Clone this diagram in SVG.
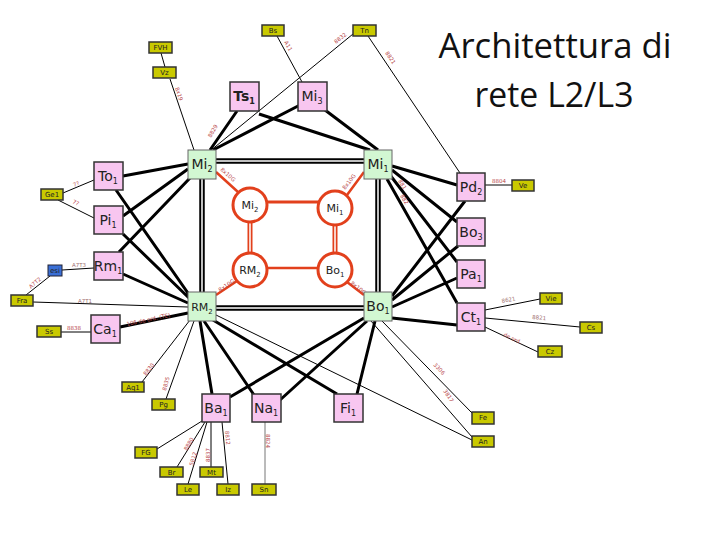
<svg xmlns="http://www.w3.org/2000/svg" width="720" height="540" viewBox="0 0 720 540">
<style>
.thick{stroke:#000;stroke-width:3;fill:none}
.thin{stroke:#000;stroke-width:1;fill:none}
.gray{stroke:#777;stroke-width:1;fill:none}
.dblo{stroke:#000;stroke-width:5.5;fill:none}
.dbli{stroke:#fff;stroke-width:1.5;fill:none}
.red{stroke:#e2401c;fill:none}
.pink{fill:#f8c6f0;stroke:#333;stroke-width:1.5}
.green{fill:#d2f7d2;stroke:#666;stroke-width:1}
.yel{fill:#c9c900;stroke:#333;stroke-width:1.5}
.circ{fill:#fff;stroke:#e2401c;stroke-width:3}
.nl{font-family:"DejaVu Sans",sans-serif;font-size:14px;fill:#222;text-anchor:middle}
.cl{font-family:"DejaVu Sans",sans-serif;font-size:11px;fill:#222;text-anchor:middle}
.yl{font-family:"DejaVu Sans",sans-serif;font-size:7px;fill:#222;text-anchor:middle}
.lb{font-family:"DejaVu Sans",sans-serif;font-size:5.5px;fill:#b8474a}
.lg{font-family:"DejaVu Sans",sans-serif;font-size:5.5px;fill:#a07070}
.title{font-family:"Open Sans","Liberation Sans",sans-serif;font-size:34px;fill:#111;text-anchor:middle}
</style>

<g id="title">
<text class="title" x="555" y="58" textLength="233" lengthAdjust="spacingAndGlyphs">Architettura di</text>
<text class="title" x="554" y="107" textLength="159" lengthAdjust="spacingAndGlyphs">rete L2/L3</text>
</g>

<g id="connectors">
<path class="dblo" d="M216,161 L364,161 M202,179 L202,292 M378,179 L378,292 M216,308 L364,308"/>
<path class="dbli" d="M216,161 L364,161 M202,179 L202,292 M378,179 L378,292 M216,308 L364,308"/>
<path class="thick" d="M210,150 L237,111 M213,150 L300,105 M259,114 L370,150 M325,110 L378,150
M123,176 L188,164 M123,216 L188,169 M119,252 L190,178
M116,190 L190,296 M123,234 L189,298 M123,274 L188,303 M120,327 L188,313
M200,321 L212,394 M204,321 L254,395 M213,320 L337,394
M364,318 L230,397 M367,321 L280,400 M375,321 L357,394
M392,296 L465,201 M392,300 L458,246 M392,307 L457,278 M392,318 L457,325
M392,166 L457,185 M392,170 L457,222 M390,175 L457,262 M387,179 L457,303"/>
<path class="thin" d="M210,151 L353,34 M194,150 L170,79 M161,53 L165,67 M277,36 L302,82 M368,36 L460,173
M63,193 L94,180 M58,200 L94,218 M62,270 L94,268 M50,276 L26,295 M33,302 L188,307 M61,332 L91,332
M190,320 L142,382 M194,321 L166,399 M216,315 L472,440 M382,321 L472,413 M371,321 L472,437
M485,185 L512,185 M485,310 L540,299 M485,318 L580,327 M485,327 L538,352
M202,421 L157,449 M205,422 L177,467 M207,422 L188,484 M211,422 L211,467 M222,422 L228,484"/>
<path class="gray" d="M265,422 L265,484"/>
<path class="red" stroke-width="3" d="M266,202 L319,202"/>
<path class="red" stroke-width="2.5" stroke="#e58a78" d="M267,268 L318,268"/>
<path class="red" stroke-width="5" d="M250,222 L250,253 M335,225 L335,253"/>
<path class="dbli" d="M250,222 L250,253 M335,225 L335,253"/>
<path class="red" stroke-width="2.5" d="M216,172 L238,192 M364,172 L347,195 M216,295 L237,281 M364,295 L347,282"/>
<text class="lb" transform="translate(336,44) rotate(-39)">8832</text>
<text class="lb" transform="translate(284,42) rotate(62)">A11</text>
<text class="lb" transform="translate(385,53) rotate(56)">8821</text>
<text class="lb" transform="translate(175,88) rotate(71)">8x19</text>
<text class="lb" transform="translate(211,138) rotate(-60)">8829</text>
<text class="lb" transform="translate(74,187) rotate(-22)">7?</text>
<text class="lb" transform="translate(72,203) rotate(26)">7?</text>
<text class="lg" x="72" y="267">A7T3</text>
<text class="lb" transform="translate(31,289) rotate(-42)">A7T2</text>
<text class="lg" x="78" y="303">A7T1</text>
<text class="lb" x="67" y="330">8838</text>
<text class="lb" transform="translate(127,326) rotate(-12)">106 de ord. (TE)</text>
<text class="lb" transform="translate(146,376) rotate(-52)">8830</text>
<text class="lb" transform="translate(166,391) rotate(-75)">8835</text>
<text class="lb" transform="translate(187,451) rotate(-60)">8880</text>
<text class="lb" transform="translate(193,466) rotate(-74)">5812</text>
<text class="lb" transform="translate(210,462) rotate(-90)">8837</text>
<text class="lb" transform="translate(225,431) rotate(84)">8812</text>
<text class="lb" transform="translate(266,434) rotate(90)">8824</text>
<text class="lb" x="492" y="183">8804</text>
<text class="lg" transform="translate(502,303) rotate(-11)">8621</text>
<text class="lg" transform="translate(532,319) rotate(5)">8821</text>
<text class="lb" fill="#d83018" transform="translate(503,336) rotate(25)">de ord.</text>
<text class="lb" transform="translate(433,365) rotate(47)">3306</text>
<text class="lb" transform="translate(443,391) rotate(56)">3817</text>
<text class="lb" transform="translate(398,181) rotate(58)">881</text>
<text class="lb" transform="translate(400,196) rotate(58)">882</text>
<text class="lb" fill="#e2401c" transform="translate(220,170) rotate(42)">8x10G</text>
<text class="lb" fill="#e2401c" transform="translate(345,190) rotate(-52)">8x10G</text>
<text class="lb" fill="#e2401c" transform="translate(220,292) rotate(-34)">8x10G</text>
<text class="lb" fill="#e2401c" transform="translate(350,284) rotate(37)">8x10G</text>
</g>

<g id="core">
<g id="Mi2"><rect class="green" x="188" y="150" width="28" height="29"/><text class="nl" x="202" y="169">Mi<tspan font-size="8" dy="3">2</tspan></text></g>
<g id="Mi1"><rect class="green" x="364" y="150" width="28" height="29"/><text class="nl" x="378" y="169">Mi<tspan font-size="8" dy="3">1</tspan></text></g>
<g id="RM2"><rect class="green" x="188" y="292" width="28" height="29"/><text class="cl" x="202" y="311">RM<tspan font-size="7" dy="3">2</tspan></text></g>
<g id="Bo1"><rect class="green" x="364" y="292" width="28" height="29"/><text class="nl" x="378" y="311">Bo<tspan font-size="8" dy="3">1</tspan></text></g>
</g>

<g id="ring">
<g id="cMi2"><circle class="circ" cx="250" cy="205" r="17"/><text class="cl" x="250" y="209">Mi<tspan font-size="7" dy="3">2</tspan></text></g>
<g id="cMi1"><circle class="circ" cx="335" cy="208" r="17"/><text class="cl" x="335" y="212">Mi<tspan font-size="7" dy="3">1</tspan></text></g>
<g id="cRM2"><circle class="circ" cx="250" cy="270" r="17"/><text class="cl" x="250" y="274">RM<tspan font-size="7" dy="3">2</tspan></text></g>
<g id="cBo1"><circle class="circ" cx="335" cy="270" r="17"/><text class="cl" x="335" y="274">Bo<tspan font-size="7" dy="3">1</tspan></text></g>
</g>

<g id="pinknodes">
<g id="Ts1"><rect class="pink" x="230" y="82" width="29" height="29"/><text class="nl" x="244" y="101" font-weight="bold">Ts<tspan font-size="8" dy="3">1</tspan></text></g>
<g id="Mi3"><rect class="pink" x="298" y="82" width="29" height="29"/><text class="nl" x="312" y="101">Mi<tspan font-size="8" dy="3">3</tspan></text></g>
<g id="To1"><rect class="pink" x="94" y="162" width="29" height="28"/><text class="nl" x="108" y="181">To<tspan font-size="8" dy="3">1</tspan></text></g>
<g id="Pi1"><rect class="pink" x="94" y="206" width="29" height="28"/><text class="nl" x="108" y="225">Pi<tspan font-size="8" dy="3">1</tspan></text></g>
<g id="Rm1"><rect class="pink" x="94" y="252" width="29" height="28"/><text class="nl" x="108" y="271">Rm<tspan font-size="8" dy="3">1</tspan></text></g>
<g id="Ca1"><rect class="pink" x="91" y="315" width="29" height="28"/><text class="nl" x="105" y="334">Ca<tspan font-size="8" dy="3">1</tspan></text></g>
<g id="Pd2"><rect class="pink" x="457" y="173" width="28" height="28"/><text class="nl" x="471" y="192">Pd<tspan font-size="8" dy="3">2</tspan></text></g>
<g id="Bo3"><rect class="pink" x="457" y="218" width="28" height="28"/><text class="nl" x="471" y="237">Bo<tspan font-size="8" dy="3">3</tspan></text></g>
<g id="Pa1"><rect class="pink" x="457" y="260" width="28" height="28"/><text class="nl" x="471" y="279">Pa<tspan font-size="8" dy="3">1</tspan></text></g>
<g id="Ct1"><rect class="pink" x="457" y="303" width="28" height="28"/><text class="nl" x="471" y="322">Ct<tspan font-size="8" dy="3">1</tspan></text></g>
<g id="Ba1"><rect class="pink" x="202" y="394" width="28" height="28"/><text class="nl" x="216" y="413">Ba<tspan font-size="8" dy="3">1</tspan></text></g>
<g id="Na1"><rect class="pink" x="252" y="394" width="29" height="28"/><text class="nl" x="266" y="413">Na<tspan font-size="8" dy="3">1</tspan></text></g>
<g id="Fi1"><rect class="pink" x="334" y="394" width="29" height="28"/><text class="nl" x="348" y="413">Fi<tspan font-size="8" dy="3">1</tspan></text></g>
</g>

<g id="leafnodes">
<g id="FVH"><rect class="yel" x="149" y="42" width="23" height="11"/><text class="yl" x="160.5" y="50">FVH</text></g>
<g id="Vz"><rect class="yel" x="153" y="67" width="23" height="11"/><text class="yl" x="164.5" y="75">Vz</text></g>
<g id="Bs"><rect class="yel" x="262" y="25" width="22" height="11"/><text class="yl" x="273" y="33">Bs</text></g>
<g id="Tn"><rect class="yel" x="353" y="25" width="23" height="11"/><text class="yl" x="364.5" y="33">Tn</text></g>
<g id="Ge1"><rect class="yel" x="41" y="189" width="22" height="11"/><text class="yl" x="52" y="197">Ge1</text></g>
<g id="esi"><rect x="48" y="265" width="14" height="11" fill="#3a6fd6" stroke="#223" stroke-width="1"/><text class="yl" x="55" y="273" font-size="5">esi</text></g>
<g id="Fra"><rect class="yel" x="11" y="295" width="22" height="11"/><text class="yl" x="22" y="303">Fra</text></g>
<g id="Ss"><rect class="yel" x="37" y="326" width="24" height="11"/><text class="yl" x="49" y="334">Ss</text></g>
<g id="Ve"><rect class="yel" x="512" y="180" width="22" height="11"/><text class="yl" x="523" y="188">Ve</text></g>
<g id="Vie"><rect class="yel" x="540" y="293" width="22" height="11"/><text class="yl" x="551" y="301">Vie</text></g>
<g id="Cs"><rect class="yel" x="580" y="322" width="22" height="11"/><text class="yl" x="591" y="330">Cs</text></g>
<g id="Cz"><rect class="yel" x="538" y="346" width="24" height="11"/><text class="yl" x="550" y="354">Cz</text></g>
<g id="Aq1"><rect class="yel" x="122" y="382" width="22" height="10"/><text class="yl" x="133" y="390">Aq1</text></g>
<g id="Pg"><rect class="yel" x="152" y="399" width="23" height="11"/><text class="yl" x="163.5" y="407">Pg</text></g>
<g id="FG"><rect class="yel" x="135" y="447" width="22" height="11"/><text class="yl" x="146" y="455">FG</text></g>
<g id="Br"><rect class="yel" x="160" y="467" width="23" height="10"/><text class="yl" x="171.5" y="475">Br</text></g>
<g id="Mt"><rect class="yel" x="200" y="467" width="23" height="10"/><text class="yl" x="211.5" y="475">Mt</text></g>
<g id="Le"><rect class="yel" x="177" y="484" width="22" height="11"/><text class="yl" x="188" y="492">Le</text></g>
<g id="Iz"><rect class="yel" x="217" y="484" width="22" height="11"/><text class="yl" x="228" y="492">Iz</text></g>
<g id="Sn"><rect class="yel" x="252" y="484" width="24" height="11"/><text class="yl" x="264" y="492">Sn</text></g>
<g id="Fe"><rect class="yel" x="472" y="412" width="22" height="12"/><text class="yl" x="483" y="420">Fe</text></g>
<g id="An"><rect class="yel" x="472" y="436" width="22" height="11"/><text class="yl" x="483" y="444">An</text></g>
</g>
</svg>
